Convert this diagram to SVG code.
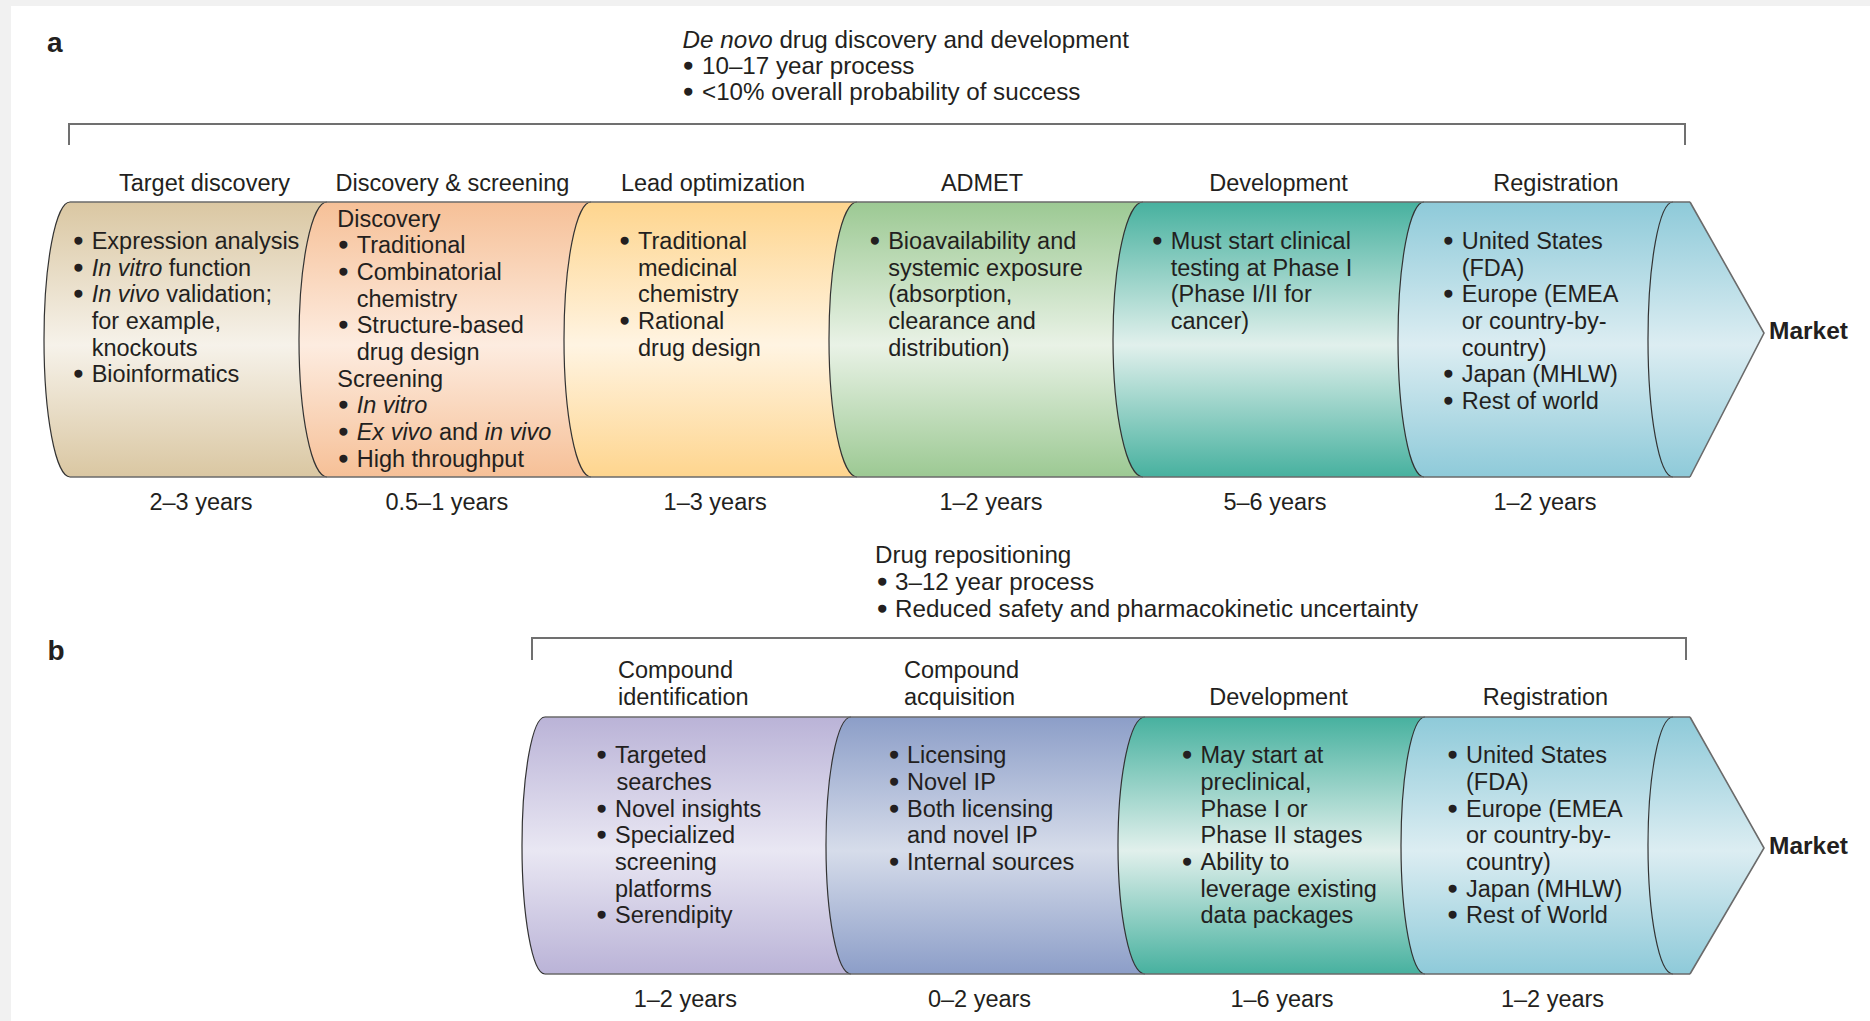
<svg xmlns="http://www.w3.org/2000/svg" width="1870" height="1021" viewBox="0 0 1870 1021">
<defs>
<style>
.t{font-family:"Liberation Sans",Arial,sans-serif;font-size:23.5px;fill:#231f20}
.tt{font-size:24.2px}
.c{text-anchor:middle}
.i{font-style:italic}
.bl{stroke:#231f20;stroke-width:1.6px}
.lbl{font-family:"Liberation Sans",Arial,sans-serif;font-size:28px;font-weight:bold;fill:#231f20}
.mk{font-family:"Liberation Sans",Arial,sans-serif;font-size:24.5px;font-weight:bold;fill:#231f20}
.edge{fill:none;stroke:#333;stroke-width:1.2}
.rim{fill:none;stroke:#6b6b6b;stroke-width:1.6}
.brk{fill:none;stroke:#707070;stroke-width:2}
</style>
<linearGradient id="gTan" x1="0" y1="0" x2="0" y2="1"><stop offset="0" stop-color="#dac7a2"/><stop offset="0.52" stop-color="#f6f2ea"/><stop offset="1" stop-color="#dac7a2"/></linearGradient>
<linearGradient id="gPeach" x1="0" y1="0" x2="0" y2="1"><stop offset="0" stop-color="#f6c097"/><stop offset="0.52" stop-color="#fdece0"/><stop offset="1" stop-color="#f6c097"/></linearGradient>
<linearGradient id="gYel" x1="0" y1="0" x2="0" y2="1"><stop offset="0" stop-color="#fed58e"/><stop offset="0.52" stop-color="#fff4e2"/><stop offset="1" stop-color="#fed58e"/></linearGradient>
<linearGradient id="gGrn" x1="0" y1="0" x2="0" y2="1"><stop offset="0" stop-color="#9cc993"/><stop offset="0.52" stop-color="#e9f2e6"/><stop offset="1" stop-color="#9cc993"/></linearGradient>
<linearGradient id="gTeal" x1="0" y1="0" x2="0" y2="1"><stop offset="0" stop-color="#47b19f"/><stop offset="0.52" stop-color="#e1f0ec"/><stop offset="1" stop-color="#47b19f"/></linearGradient>
<linearGradient id="gBlue" x1="0" y1="0" x2="0" y2="1"><stop offset="0" stop-color="#8ecad9"/><stop offset="0.52" stop-color="#dcedf2"/><stop offset="1" stop-color="#8ecad9"/></linearGradient>
<linearGradient id="gPur" x1="0" y1="0" x2="0" y2="1"><stop offset="0" stop-color="#bab3d7"/><stop offset="0.52" stop-color="#e9e7f3"/><stop offset="1" stop-color="#bab3d7"/></linearGradient>
<linearGradient id="gSlate" x1="0" y1="0" x2="0" y2="1"><stop offset="0" stop-color="#8c9ec8"/><stop offset="0.52" stop-color="#d6dcea"/><stop offset="1" stop-color="#8c9ec8"/></linearGradient>
</defs>

<rect x="0" y="0" width="1870" height="1021" fill="#f1f1f1"/>
<rect x="11" y="6" width="1859" height="1015" fill="#ffffff"/>

<g id="connectors">
<path class="brk" d="M69 145 V124 H1685 V145"/>
<path class="brk" d="M532 660 V638 H1686 V660"/>
</g>

<!-- Panel a -->
<g id="panel-a-header">
<text class="lbl" x="47" y="52">a</text>
<text class="t tt" y="48"><tspan x="682.6" class="i">De novo</tspan> drug discovery and development</text>
<text class="t tt" y="74"><tspan x="684" class="bl">• </tspan><tspan x="702">10–17 year process</tspan></text>
<text class="t tt" y="100"><tspan x="684" class="bl">• </tspan><tspan x="702">&lt;10% overall probability of success</tspan></text>
</g>

<g id="a-target-discovery">
<path fill="url(#gTan)" d="M70 202 H330 V477 H70 A26 137.5 0 0 1 70 202 Z"/>
<path class="edge" d="M70 477 A26 137.5 0 0 1 70 202"/>
<text class="t c" x="204.5" y="191">Target discovery</text>
<text class="t" y="249"><tspan x="74.2" class="bl">• </tspan><tspan x="91.7">Expression analysis</tspan></text>
<text class="t" y="275.7"><tspan x="74.2" class="bl">• </tspan><tspan x="91.7" class="i">In vitro</tspan> function</text>
<text class="t" y="302.3"><tspan x="74.2" class="bl">• </tspan><tspan x="91.7" class="i">In vivo</tspan> validation;</text>
<text class="t" x="91.7" y="329">for example,</text>
<text class="t" x="91.7" y="355.7">knockouts</text>
<text class="t" y="382.3"><tspan x="74.2" class="bl">• </tspan><tspan x="91.7">Bioinformatics</tspan></text>
<text class="t c" x="201" y="510">2–3 years</text>
</g>

<g id="a-discovery-screening">
<path fill="url(#gPeach)" d="M327 202 H594 V477 H327 A28 137.5 0 0 1 327 202 Z"/>
<path class="edge" d="M327 477 A28 137.5 0 0 1 327 202"/>
<text class="t c" x="452.4" y="191">Discovery &amp; screening</text>
<text class="t" x="337.3" y="226.7">Discovery</text>
<text class="t" y="253.3"><tspan x="339.2" class="bl">• </tspan><tspan x="356.7">Traditional</tspan></text>
<text class="t" y="280"><tspan x="339.2" class="bl">• </tspan><tspan x="356.7">Combinatorial</tspan></text>
<text class="t" x="356.7" y="306.7">chemistry</text>
<text class="t" y="333.3"><tspan x="339.2" class="bl">• </tspan><tspan x="356.7">Structure-based</tspan></text>
<text class="t" x="356.7" y="360">drug design</text>
<text class="t" x="337.3" y="386.7">Screening</text>
<text class="t" y="413.3"><tspan x="339.2" class="bl">• </tspan><tspan x="356.7" class="i">In vitro</tspan></text>
<text class="t" y="440"><tspan x="339.2" class="bl">• </tspan><tspan x="356.7" class="i">Ex vivo</tspan> and <tspan class="i">in vivo</tspan></text>
<text class="t" y="466.7"><tspan x="339.2" class="bl">• </tspan><tspan x="356.7">High throughput</tspan></text>
<text class="t c" x="446.8" y="510">0.5–1 years</text>
</g>

<g id="a-lead-optimization">
<path fill="url(#gYel)" d="M591 202 H860 V477 H591 A27 137.5 0 0 1 591 202 Z"/>
<path class="edge" d="M591 477 A27 137.5 0 0 1 591 202"/>
<text class="t c" x="713" y="191">Lead optimization</text>
<text class="t" y="249"><tspan x="620.5" class="bl">• </tspan><tspan x="638">Traditional</tspan></text>
<text class="t" x="638" y="275.7">medicinal</text>
<text class="t" x="638" y="302.3">chemistry</text>
<text class="t" y="329"><tspan x="620.5" class="bl">• </tspan><tspan x="638">Rational</tspan></text>
<text class="t" x="638" y="355.7">drug design</text>
<text class="t c" x="715.2" y="510">1–3 years</text>
</g>

<g id="a-admet">
<path fill="url(#gGrn)" d="M857 202 H1146 V477 H857 A28 137.5 0 0 1 857 202 Z"/>
<path class="edge" d="M857 477 A28 137.5 0 0 1 857 202"/>
<text class="t c" x="982" y="191">ADMET</text>
<text class="t" y="249"><tspan x="870.7" class="bl">• </tspan><tspan x="888.2">Bioavailability and</tspan></text>
<text class="t" x="888.2" y="275.7">systemic exposure</text>
<text class="t" x="888.2" y="302.3">(absorption,</text>
<text class="t" x="888.2" y="329">clearance and</text>
<text class="t" x="888.2" y="355.7">distribution)</text>
<text class="t c" x="991" y="510">1–2 years</text>
</g>

<g id="a-development">
<path fill="url(#gTeal)" d="M1143 202 H1427 V477 H1143 A30 137.5 0 0 1 1143 202 Z"/>
<path class="edge" d="M1143 477 A30 137.5 0 0 1 1143 202"/>
<text class="t c" x="1278.5" y="191">Development</text>
<text class="t" y="249"><tspan x="1153.2" class="bl">• </tspan><tspan x="1170.7">Must start clinical</tspan></text>
<text class="t" x="1170.7" y="275.7">testing at Phase I</text>
<text class="t" x="1170.7" y="302.3">(Phase I/II for</text>
<text class="t" x="1170.7" y="329">cancer)</text>
<text class="t c" x="1275" y="510">5–6 years</text>
</g>

<g id="a-registration">
<path fill="url(#gBlue)" d="M1424 202 H1690 L1764 333 L1690 477 H1424 A26 137.5 0 0 1 1424 202 Z"/>
<path class="edge" d="M1424 477 A26 137.5 0 0 1 1424 202"/>
<path class="edge" d="M1673 477 A25 137.5 0 0 1 1673 202"/>
<path class="rim" d="M1690 202 L1764 333 L1690 477"/>
<text class="t c" x="1556" y="191">Registration</text>
<text class="t" y="249"><tspan x="1444.2" class="bl">• </tspan><tspan x="1461.7">United States</tspan></text>
<text class="t" x="1461.7" y="275.7">(FDA)</text>
<text class="t" y="302.3"><tspan x="1444.2" class="bl">• </tspan><tspan x="1461.7">Europe (EMEA</tspan></text>
<text class="t" x="1461.7" y="329">or country-by-</text>
<text class="t" x="1461.7" y="355.7">country)</text>
<text class="t" y="382.3"><tspan x="1444.2" class="bl">• </tspan><tspan x="1461.7">Japan (MHLW)</tspan></text>
<text class="t" y="409"><tspan x="1444.2" class="bl">• </tspan><tspan x="1461.7">Rest of world</tspan></text>
<text class="t c" x="1545" y="510">1–2 years</text>
</g>

<g id="a-market">
<text class="mk" x="1769" y="339.3">Market</text>
</g>

<g id="a-rims">
<path class="rim" d="M70 202 H1690 M70 477 H1690"/>
</g>

<!-- Panel b -->
<g id="panel-b-header">
<text class="lbl" x="47.5" y="660">b</text>
<text class="t tt" x="875" y="563">Drug repositioning</text>
<text class="t tt" y="590"><tspan x="878" class="bl">• </tspan><tspan x="895">3–12 year process</tspan></text>
<text class="t tt" y="616.7"><tspan x="878" class="bl">• </tspan><tspan x="895">Reduced safety and pharmacokinetic uncertainty</tspan></text>
</g>

<g id="b-compound-identification">
<path fill="url(#gPur)" d="M545 717 H854 V974 H545 A23 128.5 0 0 1 545 717 Z"/>
<path class="edge" d="M545 974 A23 128.5 0 0 1 545 717"/>
<text class="t" x="618" y="678">Compound</text>
<text class="t" x="618" y="705">identification</text>
<text class="t" y="763.3"><tspan x="597.5" class="bl">• </tspan><tspan x="615">Targeted</tspan></text>
<text class="t" x="616.5" y="790">searches</text>
<text class="t" y="816.7"><tspan x="597.5" class="bl">• </tspan><tspan x="615">Novel insights</tspan></text>
<text class="t" y="843.3"><tspan x="597.5" class="bl">• </tspan><tspan x="615">Specialized</tspan></text>
<text class="t" x="615" y="870">screening</text>
<text class="t" x="615" y="896.7">platforms</text>
<text class="t" y="923.3"><tspan x="597.5" class="bl">• </tspan><tspan x="615">Serendipity</tspan></text>
<text class="t c" x="685.3" y="1006.7">1–2 years</text>
</g>

<g id="b-compound-acquisition">
<path fill="url(#gSlate)" d="M851 717 H1148 V974 H851 A25 128.5 0 0 1 851 717 Z"/>
<path class="edge" d="M851 974 A25 128.5 0 0 1 851 717"/>
<text class="t" x="904" y="678">Compound</text>
<text class="t" x="904" y="705">acquisition</text>
<text class="t" y="763.3"><tspan x="889.9" class="bl">• </tspan><tspan x="907">Licensing</tspan></text>
<text class="t" y="790"><tspan x="889.9" class="bl">• </tspan><tspan x="907">Novel IP</tspan></text>
<text class="t" y="816.7"><tspan x="889.9" class="bl">• </tspan><tspan x="907">Both licensing</tspan></text>
<text class="t" x="907" y="843.3">and novel IP</text>
<text class="t" y="870"><tspan x="889.9" class="bl">• </tspan><tspan x="907">Internal sources</tspan></text>
<text class="t c" x="979.5" y="1006.7">0–2 years</text>
</g>

<g id="b-development">
<path fill="url(#gTeal)" d="M1145 717 H1428 V974 H1145 A27 128.5 0 0 1 1145 717 Z"/>
<path class="edge" d="M1145 974 A27 128.5 0 0 1 1145 717"/>
<text class="t c" x="1278.5" y="705">Development</text>
<text class="t" y="763.3"><tspan x="1182.9" class="bl">• </tspan><tspan x="1200.5">May start at</tspan></text>
<text class="t" x="1200.5" y="790">preclinical,</text>
<text class="t" x="1200.5" y="816.7">Phase I or</text>
<text class="t" x="1200.5" y="843.3">Phase II stages</text>
<text class="t" y="870"><tspan x="1182.9" class="bl">• </tspan><tspan x="1200.5">Ability to</tspan></text>
<text class="t" x="1200.5" y="896.7">leverage existing</text>
<text class="t" x="1200.5" y="923.3">data packages</text>
<text class="t c" x="1282" y="1006.7">1–6 years</text>
</g>

<g id="b-registration">
<path fill="url(#gBlue)" d="M1425 717 H1690 L1764 848 L1690 974 H1425 A24 128.5 0 0 1 1425 717 Z"/>
<path class="edge" d="M1425 974 A24 128.5 0 0 1 1425 717"/>
<path class="edge" d="M1673 974 A25 128.5 0 0 1 1673 717"/>
<path class="rim" d="M1690 717 L1764 848 L1690 974"/>
<text class="t c" x="1545.5" y="705">Registration</text>
<text class="t" y="763.3"><tspan x="1448.5" class="bl">• </tspan><tspan x="1466">United States</tspan></text>
<text class="t" x="1466" y="790">(FDA)</text>
<text class="t" y="816.7"><tspan x="1448.5" class="bl">• </tspan><tspan x="1466">Europe (EMEA</tspan></text>
<text class="t" x="1466" y="843.3">or country-by-</text>
<text class="t" x="1466" y="870">country)</text>
<text class="t" y="896.7"><tspan x="1448.5" class="bl">• </tspan><tspan x="1466">Japan (MHLW)</tspan></text>
<text class="t" y="923.3"><tspan x="1448.5" class="bl">• </tspan><tspan x="1466">Rest of World</tspan></text>
<text class="t c" x="1552.5" y="1006.7">1–2 years</text>
</g>

<g id="b-market">
<text class="mk" x="1769" y="854">Market</text>
</g>

<g id="b-rims">
<path class="rim" d="M545 717 H1690 M545 974 H1690"/>
</g>
</svg>
